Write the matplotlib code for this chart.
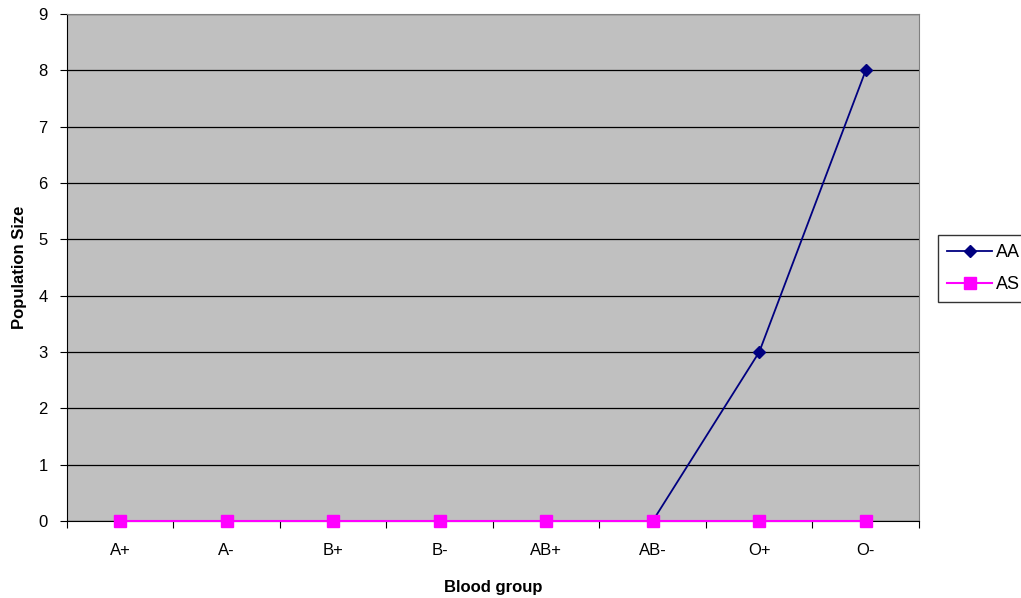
import matplotlib
matplotlib.use("Agg")
import matplotlib.pyplot as plt
import numpy as np

plt.rcParams['font.family'] = ['Liberation Sans', 'DejaVu Sans']

groups = ['A+', 'A-', 'B+', 'B-', 'AB+', 'AB-', 'O+', 'O-']
aa = [0, 0, 0, 0, 0, 0, 3, 8]
as_ = [0, 0, 0, 0, 0, 0, 0, 0]

fig = plt.figure(figsize=(10.21, 5.98), dpi=100)
ax = fig.add_axes([0.0656, 0.1288, 0.8345, 0.8478])
ax.set_facecolor('#C0C0C0')

x = np.arange(len(groups))
ax.plot(x, aa, color='#000080', marker='D', markersize=6, lw=1.3, label='AA', zorder=3, clip_on=False)
ax.plot(x, as_, color='#FF00FF', marker='s', markersize=8.5, lw=1.5, label='AS', zorder=4, clip_on=False)

ax.set_xlim(-0.5, len(groups) - 0.5)
ax.set_ylim(0, 9)
ax.set_yticks(range(10))
ax.yaxis.grid(True, color='black', lw=0.9)
ax.set_axisbelow(True)

ax.set_xticks(np.arange(len(groups) + 1) - 0.5)
ax.set_xticklabels([])
ax.set_xticks(x, minor=True)
ax.set_xticklabels(groups, minor=True)
ax.tick_params(axis='x', which='minor', length=0, pad=16, labelsize=12)
ax.tick_params(axis='x', which='major', length=5, direction='out')
ax.tick_params(axis='y', length=5, direction='out', labelsize=12, pad=9)

ax.spines['left'].set_color('black')
ax.spines['bottom'].set_color('black')
ax.spines['top'].set_color('#808080')
ax.spines['right'].set_color('#808080')

ax.set_xlabel('Blood group', fontsize=12, fontweight='bold', labelpad=16)
ax.set_ylabel('Population Size', fontsize=12, fontweight='bold', labelpad=8)

leg = fig.legend(loc='upper left', bbox_to_anchor=(0.9187, 0.607), fontsize=13,
                 frameon=True, fancybox=False, edgecolor='black', handlelength=2.5,
                 borderpad=0.5, labelspacing=0.85, handletextpad=0.2, borderaxespad=0)
leg.get_frame().set_linewidth(1.0)

fig.savefig('out.png', dpi=100)
